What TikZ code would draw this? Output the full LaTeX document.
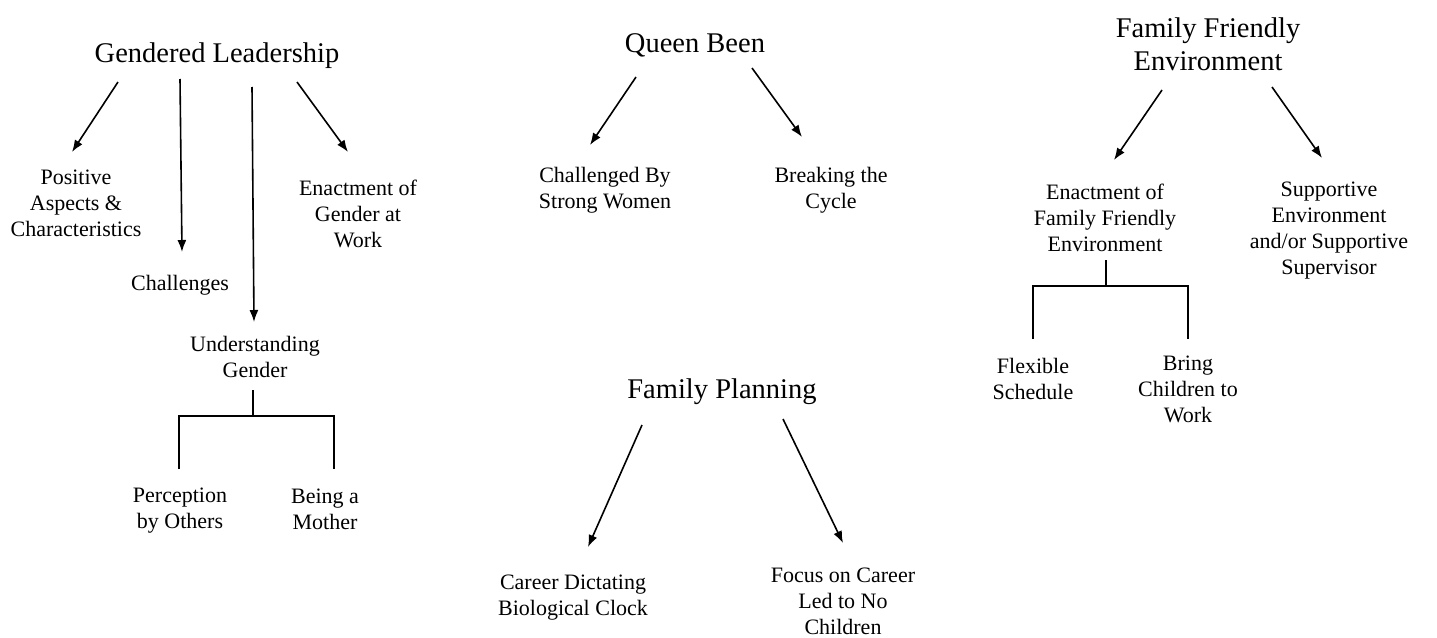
\documentclass[tikz,border=0pt]{standalone}
\usepackage{fontspec}
\setmainfont{LiberationSerif}[Extension=.ttf,UprightFont=*-Regular,BoldFont=*-Bold,ItalicFont=*-Italic,BoldItalicFont=*-BoldItalic]
\usetikzlibrary{arrows.meta}
\begin{document}
\begin{tikzpicture}[x=1pt,y=-1pt,
  every node/.style={inner sep=0pt,align=center},
  title/.style={font=\fontsize{28.5}{33}\selectfont},
  item/.style={font=\fontsize{22}{26}\selectfont},
  link/.style={line width=1.6pt,-{Latex[length=12pt,width=9pt]}},
  branch/.style={line width=1.6pt}]
\useasboundingbox (0,0) rectangle (1437,637);

% --- Gendered Leadership ---
\node[title] (gl) at (217,56) {Gendered Leadership};
\node[item] (pos) at (76,203) {Positive\\Aspects \&\\Characteristics};
\node[item] (chal) at (180,285) {Challenges};
\node[item] (enact) at (358,214) {Enactment of\\Gender at\\Work};
\node[item] (und) at (255,357) {Understanding\\Gender};
\node[item] (perc) at (180,511) {Perception\\by Others};
\node[item] (moth) at (325,509) {Being a\\Mother};

\coordinate (gl1s) at (118,82);  \coordinate (gl1e) at (72,152);
\coordinate (gl2s) at (180,79);  \coordinate (gl2e) at (182,252);
\coordinate (gl3s) at (252,87);  \coordinate (gl3e) at (254,322);
\coordinate (gl4s) at (297,82);  \coordinate (gl4e) at (348,152);
\draw[link] (gl1s) -- (gl1e);
\draw[link] (gl2s) -- (gl2e);
\draw[link] (gl3s) -- (gl3e);
\draw[link] (gl4s) -- (gl4e);

\coordinate (undj) at (253,390);
\draw[branch] (undj) -- (253,416);
\draw[branch] (179,469) -- (179,416) -- (334,416) -- (334,469);

% --- Queen Been ---
\node[title] (qb) at (695,45) {Queen Been};
\node[item] (strong) at (605,190) {Challenged By\\Strong Women};
\node[item] (cycle) at (831,190) {Breaking the\\Cycle};
\coordinate (qb1s) at (636,77);  \coordinate (qb1e) at (590,145);
\coordinate (qb2s) at (752,68);  \coordinate (qb2e) at (802,137);
\draw[link] (qb1s) -- (qb1e);
\draw[link] (qb2s) -- (qb2e);

% --- Family Planning ---
\node[title] (fp) at (722,392) {Family Planning};
\node[item] (clock) at (573,598) {Career Dictating\\Biological Clock};
\node[item] (nokids) at (843,601) {Focus on Career\\Led to No\\Children};
\coordinate (fp1s) at (642,425);  \coordinate (fp1e) at (588,547);
\coordinate (fp2s) at (783,419);  \coordinate (fp2e) at (843,543);
\draw[link] (fp1s) -- (fp1e);
\draw[link] (fp2s) -- (fp2e);

% --- Family Friendly Environment ---
\node[title] (ffe) at (1208,44) {Family Friendly\\Environment};
\node[item] (effe) at (1105,218) {Enactment of\\Family Friendly\\Environment};
\node[item] (supp) at (1329,231) {Supportive\\Environment\\and/or Supportive\\Supervisor};
\node[item] (flex) at (1033,379) {Flexible\\Schedule};
\node[item] (kids) at (1188,389) {Bring\\Children to\\Work};
\coordinate (ff1s) at (1162,90);   \coordinate (ff1e) at (1114,160);
\coordinate (ff2s) at (1272,87);   \coordinate (ff2e) at (1322,158);
\draw[link] (ff1s) -- (ff1e);
\draw[link] (ff2s) -- (ff2e);

\coordinate (effej) at (1106,260);
\draw[branch] (effej) -- (1106,286);
\draw[branch] (1033,339) -- (1033,286) -- (1188,286) -- (1188,339);
\end{tikzpicture}
\end{document}
